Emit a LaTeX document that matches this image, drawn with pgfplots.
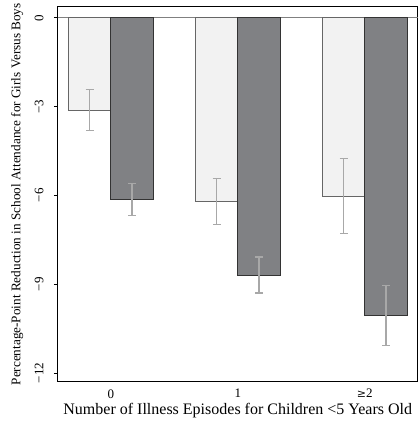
\documentclass[border=0pt]{standalone}
\usepackage{fontspec}
\setmainfont{Liberation Serif}
\usepackage{pgfplots}
\pgfplotsset{compat=1.18}
\definecolor{lightbar}{HTML}{F2F2F2}
\definecolor{darkbar}{HTML}{808184}
\definecolor{errgray}{HTML}{A8A8A8}
\begin{document}
\begin{tikzpicture}
\begin{axis}[
  scale only axis,
  width=360pt, height=375pt,
  ybar, bar width=0.333,
  xmin=-0.417, xmax=2.417,
  ymin=-12.3, ymax=0.37,
  xtick={0,1,2},
  xticklabels={0,1,{\fontspec{DejaVu Serif}\fontsize{11}{13}\selectfont≥}2},
  ytick={-12,-9,-6,-3,0},
  yticklabels={−12,−9,−6,−3,0},
  ytick pos=left,
  yticklabel style={rotate=90, anchor=south, outer sep=7pt},
  tick align=outside,
  x tick style={draw=none},
  y tick style={black, line width=0.6pt},
  major tick length=4pt,
  tick label style={font=\fontsize{13}{15}\selectfont},
  xlabel={Number of Illness Episodes for Children <5 Years Old},
  ylabel={Percentage-Point Reduction in School Attendance for Girls Versus Boys},
  xlabel style={font=\fontsize{16}{18}\selectfont, yshift=2pt},
  ylabel style={font=\fontsize{13.2}{15}\selectfont, inner ysep=11pt, yshift=-3pt},
  axis line style={line width=0.8pt},
  /pgf/number format/assume math mode=true,
  clip=false,
]
\addplot [sharp plot, gray, line width=1pt, forget plot, mark=none] coordinates {(-0.417,0) (2.417,0)};
\addplot [bar shift=-0.1667, fill=lightbar, draw=gray!80!black, line width=0.7pt,
  error bars/.cd, y dir=both, y explicit,
  error bar style={color=errgray, line width=1.2pt},
  error mark options={rotate=90, mark size=4pt, color=errgray, line width=1.2pt}]
  coordinates {(0,-3.12) +- (0,0.70) (1,-6.21) +- (0,0.77) (2,-6.03) +- (0,1.27)};
\addplot [bar shift=0.1667, fill=darkbar, draw=black!80, line width=0.7pt,
  error bars/.cd, y dir=both, y explicit,
  error bar style={color=errgray, line width=1.2pt},
  error mark options={rotate=90, mark size=4pt, color=errgray, line width=1.2pt}]
  coordinates {(0,-6.15) +- (0,0.54) (1,-8.69) +- (0,0.61) (2,-10.06) +- (0,1.01)};
\end{axis}
\end{tikzpicture}
\end{document}
